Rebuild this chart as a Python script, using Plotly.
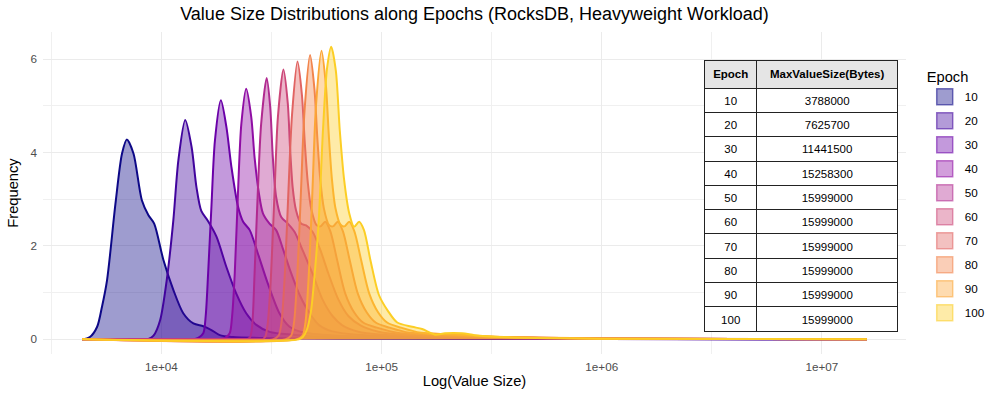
import plotly.graph_objects as go

# epochs and the max value size table
epochs = [10, 20, 30, 40, 50, 60, 70, 80, 90, 100]
max_value_size = [3788000, 7625700, 11441500, 15258300, 15999000,
                  15999000, 15999000, 15999000, 15999000, 15999000]

# plasma palette, one per epoch
colors = ["#0d0887", "#41049d", "#6a00a8", "#8f0da4", "#b12a90",
          "#cc4778", "#e16462", "#f2844b", "#fca636", "#fcce25"]

# density curves: x = log10(value size), y = density
e10_x = [3.640, 3.675, 3.708, 3.730, 3.753, 3.791, 3.821, 3.843, 3.873, 3.911, 3.941, 3.967,
         4.009, 4.054, 4.099, 4.145, 4.190, 4.227, 4.265, 4.325, 4.461, 4.800, 5.500, 6.300, 7.204]
e10_y = [0.00, 0.05, 0.27, 0.70, 1.27, 2.90, 3.98, 4.28, 3.98, 2.98, 2.66, 2.48,
         1.70, 1.06, 0.56, 0.34, 0.28, 0.20, 0.09, 0.05, 0.03, 0.02, 0.01, 0.005, 0.00]

e20_x = [3.640, 3.920, 3.941, 3.964, 3.994, 4.024, 4.054, 4.077, 4.108, 4.137, 4.159, 4.181,
         4.212, 4.250, 4.295, 4.340, 4.385, 4.431, 4.491, 4.596, 4.777, 5.200, 6.000, 7.204]
e20_y = [0.00, 0.00, 0.01, 0.08, 0.41, 1.27, 2.55, 3.84, 4.70, 4.12, 3.26, 2.75,
         2.53, 2.20, 1.55, 0.98, 0.56, 0.31, 0.16, 0.10, 0.05, 0.03, 0.01, 0.00]

e30_x = [3.640, 4.130, 4.150, 4.167, 4.190, 4.201, 4.212, 4.227, 4.243, 4.270, 4.295, 4.318,
         4.348, 4.371, 4.401, 4.438, 4.483, 4.536, 4.582, 4.642, 4.777, 5.200, 6.000, 7.204]
e30_y = [0.00, 0.00, 0.005, 0.03, 0.13, 0.50, 1.41, 2.84, 4.26, 5.12, 4.55, 3.69,
         2.84, 2.52, 2.34, 1.84, 1.20, 0.56, 0.27, 0.15, 0.08, 0.03, 0.01, 0.00]

e40_x = [3.640, 4.260, 4.271, 4.289, 4.310, 4.321, 4.333, 4.348, 4.363, 4.385, 4.408, 4.423,
         4.443, 4.461, 4.491, 4.521, 4.551, 4.583, 4.628, 4.673, 4.718, 4.777, 4.890, 5.300,
         6.000, 7.204]
e40_y = [0.00, 0.00, 0.005, 0.03, 0.13, 0.50, 1.41, 3.19, 4.62, 5.37, 4.76, 3.90,
         3.12, 2.70, 2.48, 2.34, 1.95, 1.50, 0.95, 0.56, 0.30, 0.17, 0.10, 0.04,
         0.015, 0.00]

e50_x = [3.640, 4.370, 4.389, 4.403, 4.413, 4.423, 4.438, 4.453, 4.478, 4.494, 4.506, 4.521,
         4.544, 4.574, 4.605, 4.642, 4.687, 4.732, 4.777, 4.822, 4.890, 5.003, 5.400, 6.000,
         6.600, 7.204]
e50_y = [0.00, 0.00, 0.005, 0.05, 0.35, 1.41, 3.19, 4.62, 5.60, 4.98, 3.90, 3.05,
         2.62, 2.48, 2.30, 1.90, 1.40, 0.85, 0.50, 0.30, 0.17, 0.10, 0.05, 0.02,
         0.01, 0.00]

e60_x = [3.640, 4.445, 4.461, 4.472, 4.483, 4.498, 4.514, 4.529, 4.554, 4.574, 4.584, 4.596,
         4.611, 4.634, 4.657, 4.687, 4.723, 4.759, 4.804, 4.849, 4.904, 4.981, 5.094, 5.400,
         6.000, 6.600, 7.204]
e60_y = [0.00, 0.00, 0.005, 0.06, 0.35, 1.41, 3.19, 4.76, 5.78, 5.05, 4.12, 3.26,
         2.77, 2.48, 2.44, 2.30, 1.90, 1.40, 0.85, 0.50, 0.30, 0.17, 0.10, 0.05,
         0.02, 0.01, 0.00]

e70_x = [3.640, 4.505, 4.532, 4.545, 4.561, 4.577, 4.593, 4.618, 4.638, 4.651, 4.665, 4.681,
         4.704, 4.722, 4.744, 4.767, 4.798, 4.835, 4.875, 4.916, 4.979, 5.070, 5.205, 5.386,
         6.000, 6.600, 7.204]
e70_y = [0.00, 0.00, 0.08, 0.35, 1.45, 3.20, 4.80, 5.95, 5.24, 4.22, 3.35, 2.78,
         2.45, 2.42, 2.52, 2.32, 1.70, 0.98, 0.58, 0.36, 0.25, 0.14, 0.10, 0.06,
         0.02, 0.01, 0.00]

e80_x = [3.640, 4.562, 4.589, 4.602, 4.618, 4.634, 4.650, 4.675, 4.695, 4.708, 4.722, 4.738,
         4.761, 4.779, 4.801, 4.824, 4.855, 4.892, 4.932, 4.973, 5.036, 5.127, 5.262, 5.443,
         6.000, 6.600, 7.204]
e80_y = [0.00, 0.00, 0.08, 0.35, 1.45, 3.20, 4.90, 6.09, 5.36, 4.32, 3.40, 2.80,
         2.45, 2.42, 2.52, 2.32, 1.70, 0.98, 0.58, 0.36, 0.25, 0.14, 0.11, 0.06,
         0.02, 0.01, 0.00]

e90_x = [3.640, 4.614, 4.641, 4.654, 4.670, 4.686, 4.702, 4.727, 4.747, 4.760, 4.774, 4.790,
         4.813, 4.831, 4.853, 4.876, 4.907, 4.944, 4.984, 5.025, 5.088, 5.179, 5.314, 5.495,
         6.000, 6.600, 7.204]
e90_y = [0.00, 0.00, 0.08, 0.35, 1.45, 3.20, 5.00, 6.18, 5.44, 4.39, 3.45, 2.82,
         2.46, 2.42, 2.52, 2.32, 1.70, 0.98, 0.58, 0.36, 0.25, 0.14, 0.11, 0.06,
         0.02, 0.01, 0.00]

e100_x = [3.640, 4.624, 4.642, 4.660, 4.679, 4.696, 4.714, 4.734, 4.752, 4.771, 4.792, 4.810,
          4.830, 4.853, 4.875, 4.898, 4.920, 4.950, 4.988, 5.030, 5.071, 5.139, 5.184, 5.243,
          5.288, 5.365, 5.423, 5.500, 5.700, 6.000, 6.600, 7.204]
e100_y = [0.00, 0.00, 0.05, 0.20, 0.60, 1.40, 2.50, 4.50, 5.80, 6.27, 5.76, 4.48,
          3.41, 2.70, 2.41, 2.52, 2.34, 1.68, 0.95, 0.60, 0.36, 0.27, 0.22, 0.10,
          0.13, 0.13, 0.09, 0.06, 0.03, 0.015, 0.01, 0.00]

curves = [(e10_x, e10_y), (e20_x, e20_y), (e30_x, e30_y), (e40_x, e40_y), (e50_x, e50_y),
          (e60_x, e60_y), (e70_x, e70_y), (e80_x, e80_y), (e90_x, e90_y), (e100_x, e100_y)]

x_tickvals = [4, 5, 6, 7]
x_ticktext = ["1e+04", "1e+05", "1e+06", "1e+07"]
y_tickvals = [0, 2, 4, 6]

FONT = "Liberation Sans, Arial, sans-serif"


def rgba(hex_color, a):
    h = hex_color.lstrip("#")
    r, g, b = int(h[0:2], 16), int(h[2:4], 16), int(h[4:6], 16)
    return f"rgba({r},{g},{b},{a})"


fig = go.Figure()

for ep, col, (cx, cy) in zip(epochs, colors, curves):
    fig.add_trace(go.Scatter(
        x=cx, y=cy, mode="lines", fill="tozeroy",
        fillcolor=rgba(col, 0.4),
        line=dict(color=col, width=2, shape="spline", smoothing=0.8),
        showlegend=False, hoverinfo="skip",
    ))

# legend keys
for ep, col in zip(epochs, colors):
    fig.add_trace(go.Scatter(
        x=[None], y=[None], mode="markers", name=str(ep), legendgroup=str(ep),
        marker=dict(symbol="square", size=16, color=rgba(col, 0.4),
                    line=dict(color=rgba(col, 0.55), width=1.5)),
    ))

# table of max value sizes
fig.add_trace(go.Table(
    domain=dict(x=[0.7666, 0.9905], y=[0.05, 0.9125]),
    columnwidth=[52, 140],
    header=dict(values=["<b>Epoch</b>", "<b>MaxValueSize(Bytes)</b>"],
                fill_color="#e5e5e5", line=dict(color="#222222", width=1),
                align="center", height=24.1,
                font=dict(family=FONT, size=11.5, color="black")),
    cells=dict(values=[epochs, max_value_size],
               fill_color="white", line=dict(color="#222222", width=1),
               align="center", height=24.3,
               font=dict(family=FONT, size=11.5, color="black")),
))

fig.update_layout(
    width=997, height=399,
    margin=dict(l=39, r=91, t=32, b=44),
    paper_bgcolor="white", plot_bgcolor="white",
    font=dict(family=FONT, color="black"),
    title=dict(text="Value Size Distributions along Epochs (RocksDB, Heavyweight Workload)",
               x=0.5, xref="paper", xanchor="center",
               y=0.965, yref="container", yanchor="middle",
               font=dict(size=18, color="black")),
    legend=dict(title=dict(text="Epoch", font=dict(size=14.7)),
                xref="container", yref="container",
                x=0.9275, xanchor="left", y=0.842, yanchor="top",
                maxheight=320,
                font=dict(size=11.7), tracegroupgap=5, itemsizing="trace",
                bgcolor="rgba(0,0,0,0)"),
)

fig.update_xaxes(
    range=[3.462, 7.382], tickvals=x_tickvals, ticktext=x_ticktext,
    showgrid=True, gridcolor="#ebebeb", gridwidth=1, zeroline=False, showline=False,
    ticks="", ticklabelstandoff=4,
    tickfont=dict(size=11.7, color="#4d4d4d"),
    minor=dict(tickvals=[3.5, 4.5, 5.5, 6.5], showgrid=True, gridcolor="#f0f0f0", gridwidth=1),
    title=dict(text="Log(Value Size)", font=dict(size=14.7, color="black"), standoff=4),
)
fig.update_yaxes(
    range=[-0.314, 6.584], tickvals=y_tickvals,
    showgrid=True, gridcolor="#ebebeb", gridwidth=1, zeroline=False, showline=False,
    ticks="", ticklabelstandoff=5,
    tickfont=dict(size=11.7, color="#4d4d4d"),
    minor=dict(tickvals=[1, 3, 5], showgrid=True, gridcolor="#f0f0f0", gridwidth=1),
    title=dict(text="Frequency", font=dict(size=14.7, color="black"), standoff=8),
)

fig.write_html("out.html", config={"displayModeBar": False},
               post_script="document.body.style.margin='0';")
